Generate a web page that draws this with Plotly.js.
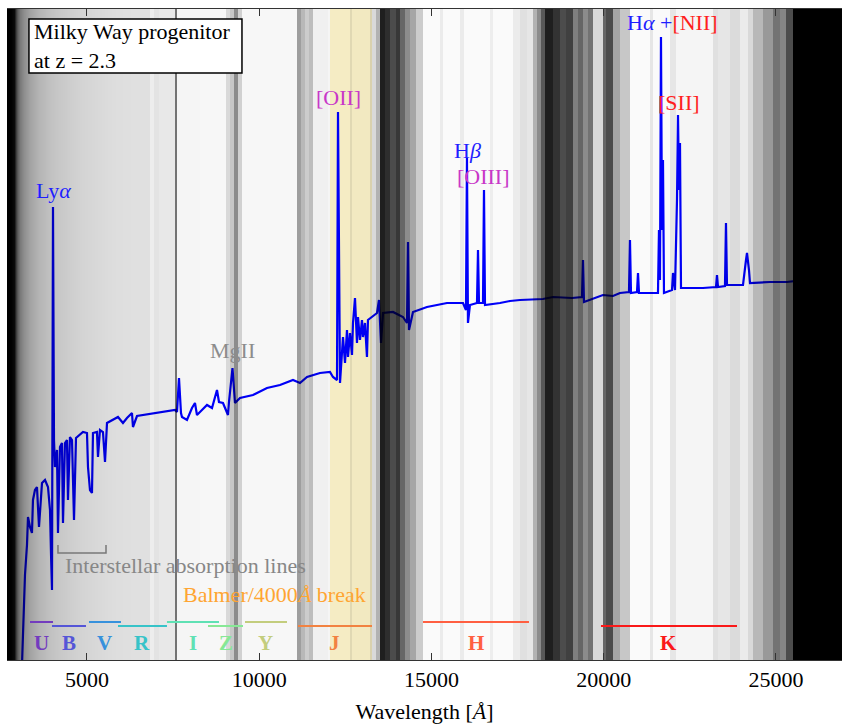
<!DOCTYPE html>
<html>
<head>
<meta charset="utf-8">
<script src="https://cdn.plot.ly/plotly-3.0.1.min.js"></script>
<style>html,body{margin:0;padding:0;background:#fff;}#chart{width:842px;height:724px;}</style>
</head>
<body>
<div id="chart"></div>
<script>
// ---------------- data ----------------
// observed-frame spectrum (wavelength in Angstrom, arbitrary flux units)
const specWave = [3113,3171,3200,3258,3287,3345,3403,3432,3490,3548,3578,3607,3694,3781,3868,3926,3955,3984,4013,4042,
  4071,4129,4158,4216,4274,4303,4361,4419,4448,4506,4565,4623,4681,4797,4884,5000,5029,5087,5145,5174,
  5290,5319,5377,5464,5523,5581,5755,5900,6045,6161,6306,6335,6452,6626,6916,7322,7555,7613,7671,7729,
  7758,7903,8048,8135,8193,8338,8484,8629,8774,8832,8948,9093,9122,9224,9296,9442,9819,10225,10603,10980,
  11183,11387,11764,12054,12141,12258,12287,12345,12432,12490,12548,12577,12635,12693,12722,12780,12838,12867,12925,12983,
  13012,13070,13128,13157,13274,13419,13477,13535,13593,13883,14173,14290,14319,14348,14464,14870,15451,15915,16002,16031,
  16060,16118,16322,16351,16380,16496,16525,16554,16989,17280,17570,18238,18528,19080,19370,19399,19428,19979,20270,20473,
  20734,20763,20792,20967,20996,21025,21518,21576,21605,21634,21663,21692,21721,21750,21983,22012,22070,22128,22157,22186,
  22215,22244,22882,23260,23289,23318,23521,23550,23579,24044,24131,24160,24218,24247,24827,25321,25553,25582,25611,26918];
const specFlux = [-0.05,0.60,0.85,1.15,1.43,1.33,1.27,1.60,1.70,1.73,1.53,1.33,1.77,1.80,1.73,1.50,1.07,0.70,4.53,2.20,
  1.93,2.10,1.27,2.13,2.17,1.37,2.17,2.20,1.60,2.23,2.20,1.40,2.22,2.25,2.28,2.27,1.93,1.70,1.67,2.27,
  2.28,2.03,2.30,2.28,1.98,2.37,2.40,2.43,2.37,2.42,2.47,2.33,2.44,2.45,2.47,2.49,2.50,2.48,2.82,2.47,
  2.43,2.40,2.52,2.57,2.45,2.50,2.55,2.52,2.70,2.58,2.57,2.45,2.58,2.92,2.57,2.62,2.65,2.72,2.75,2.80,
  2.77,2.83,2.87,2.88,2.83,2.80,5.48,2.77,3.23,2.97,3.30,3.03,3.27,3.05,3.37,3.62,3.17,3.43,3.20,3.40,
  3.23,3.37,3.03,3.40,3.43,3.47,3.60,3.17,3.47,3.48,3.43,3.37,4.18,3.30,3.48,3.53,3.57,3.57,3.50,5.02,
  3.37,3.55,3.57,4.10,3.57,3.57,4.70,3.55,3.57,3.59,3.60,3.61,3.63,3.62,3.63,4.00,3.58,3.65,3.64,3.67,
  3.68,4.20,3.67,3.68,3.87,3.67,3.67,3.67,4.30,3.80,6.23,4.30,5.00,3.67,3.70,3.87,3.70,4.60,5.45,4.70,
  5.17,3.72,3.72,3.73,3.85,3.73,3.74,4.37,3.75,3.75,4.00,4.07,3.90,3.77,3.78,3.78,3.79,4.00,3.80,3.82];

// atmospheric transmission, smooth blue-end gradient (bin edges in Angstrom, transmission 0..1)
const gradEdges  = [2678,2881,2910,2939,2968,2997,3026,3055,3113,3171,3258,3345,3490,3636,3868,4216,4623,5087,5581,6161,6829];
const gradLevels = [0.0,0.08,0.20,0.30,0.37,0.42,0.46,0.50,0.54,0.58,0.62,0.66,0.70,0.73,0.77,0.80,0.83,0.85,0.87,0.88];
// atmospheric transmission, telluric bands (bin edges in Angstrom, transmission 0..1)
const transEdges = [6829,6945,7090,7555,7613,
  8280,9035,9151,9267,9384,9500,11096,11212,11329,11445,11561,11996,12635,12693,13215,13390,13506,13651,13796,13970,
  14086,14232,14377,14551,14754,15248,15335,15828,15944,16699,16786,17367,17570,17773,17947,18064,18180,18296,18528,18731,
  18905,19109,19254,19399,19544,19689,19979,20066,20270,20473,20763,21344,21431,21924,22099,23173,23318,23666,23956,24189,
  24334,24624,24915,25118,25292,25495,26918];
const transLevels = [0.93,0.89,0.91,0.45,
  0.96,0.97,0.85,0.78,0.55,0.82,0.97,0.62,0.72,0.80,0.74,0.94,0.96,0.88,0.95,0.85,0.70,0.12,0.18,0.30,
  0.22,0.40,0.55,0.65,0.80,0.98,0.92,0.98,0.92,0.98,0.93,0.98,0.92,0.88,0.90,0.70,0.55,0.35,0.12,0.20,
  0.30,0.25,0.50,0.40,0.55,0.45,0.85,0.40,0.30,0.65,0.78,0.98,0.90,0.98,0.90,0.96,0.88,0.90,0.86,0.92,
  0.85,0.72,0.60,0.45,0.52,0.30,0.0];

// broad-band filters
const filterNames  = ['U','B','V','R','I','Z','Y','J','H','K'];
const filterStart  = [3345,3984,5058,5900,7322,8513,9587,11125,14754,19921];
const filterEnd    = [4013,4971,5987,7322,8832,9529,10806,13274,17831,23870];
const filterColors = ['rgb(115,60,190)','rgb(85,85,215)','rgb(55,145,220)','rgb(55,195,200)','rgb(95,225,180)',
                      'rgb(135,232,150)','rgb(195,205,125)','rgb(242,130,65)','rgb(255,95,65)','rgb(250,25,25)'];

// Balmer / 4000A break region and interstellar absorption bracket
const balmerBand = [12054, 13273];
const ismRange = [4158, 5552];

// emission line labels
const lineLabels = [
  {text:'Ly<i>α</i>', x:4042, y:4.70, color:'rgb(30,30,255)'},
  {text:'MgII', x:9238, y:3.10, color:'rgb(140,140,140)'},
  {text:'[OII]', x:12287, y:5.63, color:'rgb(200,55,200)'},
  {text:'H<i>β</i>', x:16060, y:5.10, color:'rgb(30,30,255)'},
  {text:'[OIII]', x:16525, y:4.84, color:'rgb(200,55,200)'},
  {text:'<span style="color:rgb(30,30,255)">H<i>α</i> +</span><span style="color:rgb(255,30,30)">[NII]</span>', x:22000, y:6.38, color:'rgb(30,30,255)'},
  {text:'[SII]', x:22186, y:5.58, color:'rgb(255,30,30)'}
];
const boxText = 'Milky Way progenitor<br>at z = 2.3';

// ---------------- plot ----------------
const FONT = 'Liberation Serif, Times New Roman, DejaVu Serif, serif';
const XR = [2678, 26918], YR = [0, 6.51];
const OVERLAY_SCALE = [[0,'rgba(0,0,0,1)'],[1,'rgba(0,0,0,0)']];

const traces = [];
traces.push({type:'scatter', mode:'lines', x:specWave, y:specFlux,
  line:{color:'rgb(0,0,255)', width:2.2}, hoverinfo:'skip'});

// transmission overlay (black with alpha = 1 - T acts as a multiply)
traces.push({type:'heatmap', x:gradEdges, y:YR, z:[gradLevels], xaxis:'x2', yaxis:'y2',
  colorscale:OVERLAY_SCALE, zmin:0, zmax:1, showscale:false, hoverinfo:'skip', zsmooth:'best'});
traces.push({type:'heatmap', x:transEdges, y:YR, z:[transLevels], xaxis:'x2', yaxis:'y2',
  colorscale:OVERLAY_SCALE, zmin:0, zmax:1, showscale:false, hoverinfo:'skip', zsmooth:false});

// filter bars
filterNames.forEach((n,i)=>{
  const yl = (i%2===0) ? 0.38 : 0.34;
  traces.push({type:'scatter', mode:'lines', x:[filterStart[i], filterEnd[i]], y:[yl,yl],
    xaxis:'x2', yaxis:'y2', line:{color:filterColors[i], width:2}, hoverinfo:'skip'});
});
// interstellar bracket
traces.push({type:'scatter', mode:'lines', x:[ismRange[0],ismRange[0],ismRange[1],ismRange[1]],
  y:[1.15,1.07,1.07,1.15], xaxis:'x2', yaxis:'y2', line:{color:'rgb(120,120,120)', width:1.5}, hoverinfo:'skip'});

const annotations = [];
lineLabels.forEach(l=>annotations.push({x:l.x, y:l.y, xref:'x', yref:'y', text:l.text, showarrow:false,
  font:{family:FONT, size:22, color:l.color}, xanchor:'center', yanchor:'middle'}));
filterNames.forEach((n,i)=>annotations.push({x:(filterStart[i]+filterEnd[i])/2, y:0.17, xref:'x', yref:'y',
  text:'<b>'+n+'</b>', showarrow:false, font:{family:FONT, size:21, color:filterColors[i]}, xanchor:'center', yanchor:'middle'}));
annotations.push({x:4303, y:0.95, xref:'x', yref:'y', text:'Interstellar absorption lines', showarrow:false,
  font:{family:FONT, size:22, color:'rgb(135,135,135)'}, xanchor:'left', yanchor:'middle'});
annotations.push({x:7729, y:0.66, xref:'x', yref:'y', text:'Balmer/4000<i>Å</i> break', showarrow:false,
  font:{family:FONT, size:22, color:'rgb(255,165,50)'}, xanchor:'left', yanchor:'middle'});
// text box content (box itself is a shape)
annotations.push({x:0.0305, y:0.9432, xref:'paper', yref:'paper', xanchor:'left', yanchor:'middle', align:'left',
  text:boxText, showarrow:false, font:{family:FONT, size:22, color:'black'}});

const layout = {
  width:842, height:724, margin:{l:7, r:0, t:9, b:64},
  paper_bgcolor:'white', plot_bgcolor:'white', showlegend:false,
  font:{family:FONT, color:'black'},
  xaxis:{range:XR, tick0:0, dtick:5000, tickformat:'d', ticks:'inside', ticklen:7, tickcolor:'#333', showline:true,
    linecolor:'#333', linewidth:1, mirror:'ticks', showgrid:false, zeroline:false,
    tickfont:{family:FONT, size:22, color:'black'},
    title:{text:'Wavelength [<i>Å</i>]', font:{family:FONT, size:22, color:'black'}, standoff:14}},
  yaxis:{range:YR, visible:false, showgrid:false, zeroline:false},
  xaxis2:{range:XR, overlaying:'x', visible:false, showgrid:false, zeroline:false},
  yaxis2:{range:YR, overlaying:'y', visible:false, showgrid:false, zeroline:false},
  shapes:[
    {type:'rect', xref:'x', yref:'paper', x0:balmerBand[0], x1:balmerBand[1], y0:0, y1:1,
      fillcolor:'rgb(255,246,204)', line:{width:0}, layer:'below'},
    {type:'rect', xref:'paper', yref:'paper', x0:0.0263, x1:0.2814, y0:0.9017, y1:0.9846,
      fillcolor:'white', line:{color:'black', width:1.5}, layer:'above'}
  ],
  annotations:annotations
};
Plotly.newPlot('chart', traces, layout, {staticPlot:true, displayModeBar:false});
</script>
</body>
</html>
